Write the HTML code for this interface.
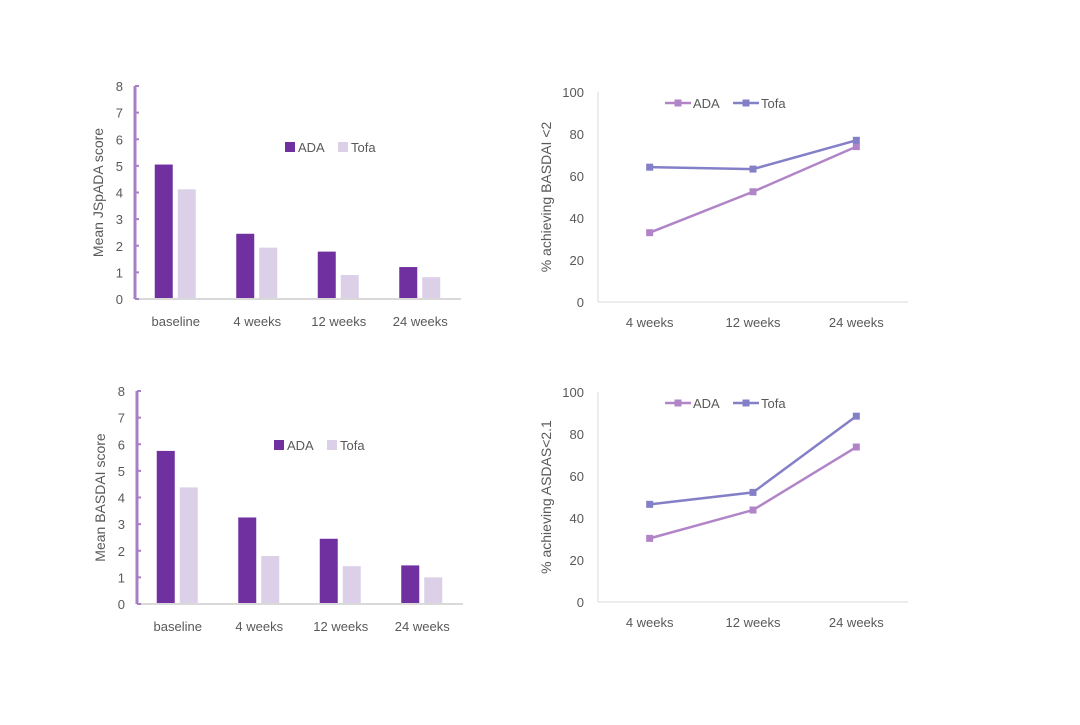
<!DOCTYPE html>
<html><head><meta charset="utf-8"><style>
body{margin:0;background:#fff;}
svg text{font-family:"Liberation Sans",sans-serif;fill:#595959;}
</style></head><body>
<svg id="c" width="1080" height="720" xmlns="http://www.w3.org/2000/svg"></svg>
<script>
const barCats=["baseline","4 weeks","12 weeks","24 weeks"];
const jspadaADA=[5.05,2.45,1.78,1.2];
const jspadaTofa=[4.12,1.93,0.9,0.82];
const basdaiADA=[5.75,3.25,2.45,1.45];
const basdaiTofa=[4.38,1.8,1.42,1.0];
const barTicks=[0,1,2,3,4,5,6,7,8];
const lineCats=["4 weeks","12 weeks","24 weeks"];
const basdai2ADA=[33,52.5,74];
const basdai2Tofa=[64.2,63.3,77];
const asdasADA=[30.3,43.8,73.8];
const asdasTofa=[46.5,52.2,88.5];
const lineTicks=[0,20,40,60,80,100];

const svg=document.getElementById('c');
const NS="http://www.w3.org/2000/svg";
function el(t,a,txt){const e=document.createElementNS(NS,t);for(const k in a)e.setAttribute(k,a[k]);if(txt!=null)e.textContent=txt;svg.appendChild(e);return e;}

function barChart(o){
  const y=v=>o.y0-(v/8)*(o.y0-o.y1);
  const step=(o.xEnd-o.x0)/barCats.length;
  let e=el('line',{x1:o.x0,y1:o.y0,x2:o.xEnd,y2:o.y0,stroke:'#d9d9d9','stroke-width':2});
  
  e=el('line',{x1:o.x0,y1:o.y0,x2:o.x0,y2:o.y1,stroke:'#a67fc4','stroke-width':3});
  
  barTicks.forEach(t=>{
    const tk=el('line',{x1:o.x0,y1:y(t),x2:o.x0+4,y2:y(t),stroke:'#a67fc4','stroke-width':2});
    
    const l=el('text',{x:o.x0-12,y:y(t)+5,'text-anchor':'end','font-size':13},t);
    
  });
  barCats.forEach((c,i)=>{
    const cx=o.x0+step*(i+0.5);
    let b=el('rect',{x:cx-21,y:y(o.a[i]),width:18,height:o.y0-1-y(o.a[i]),fill:'#7030a0'});
    
    b=el('rect',{x:cx+2,y:y(o.b[i]),width:18,height:o.y0-1-y(o.b[i]),fill:'#dccfe8'});
    
    const l=el('text',{x:cx,y:o.y0+27,'text-anchor':'middle','font-size':13},c);
    
  });
  const yt=el('text',{x:0,y:0,'text-anchor':'middle','font-size':14,transform:`translate(${o.x0-32},${(o.y0+o.y1)/2}) rotate(-90)`},o.title);
  
  let s=el('rect',{x:o.lx,y:o.ly-5,width:10,height:10,fill:'#7030a0'});
  
  let t=el('text',{x:o.lx+13,y:o.ly+5,'font-size':13},'ADA');
  
  s=el('rect',{x:o.lx+53,y:o.ly-5,width:10,height:10,fill:'#dccfe8'});
  
  t=el('text',{x:o.lx+66,y:o.ly+5,'font-size':13},'Tofa');
  
}

function lineChart(o){
  const y=v=>o.y0-(v/100)*(o.y0-o.y1);
  const step=(o.xEnd-o.x0)/lineCats.length;
  const x=i=>o.x0+step*(i+0.5);
  let e=el('line',{x1:o.x0,y1:o.y0,x2:o.xEnd,y2:o.y0,stroke:'#d9d9d9','stroke-width':1});
  
  e=el('line',{x1:o.x0,y1:o.y0,x2:o.x0,y2:o.y1,stroke:'#d9d9d9','stroke-width':1});
  
  lineTicks.forEach(t=>{
    const l=el('text',{x:o.x0-14,y:y(t)+5,'text-anchor':'end','font-size':13},t);
    
  });
  lineCats.forEach((c,i)=>{
    const l=el('text',{x:x(i),y:o.y0+25,'text-anchor':'middle','font-size':13},c);
    
  });
  [[o.a,'#b184c8','ada'],[o.b,'#8480c8','tofa']].forEach(([d,col,n])=>{
    const p=el('polyline',{points:d.map((v,i)=>x(i)+','+y(v)).join(' '),fill:'none',stroke:col,'stroke-width':2.5});
    
    d.forEach((v,i)=>{
      const m=el('rect',{x:x(i)-3.5,y:y(v)-3.5,width:7,height:7,fill:col});
      
    });
  });
  const yt=el('text',{x:0,y:0,'text-anchor':'middle','font-size':14,transform:`translate(${o.x0-47},${(o.y0+o.y1)/2}) rotate(-90)`},o.title);
  
  [[665,'#b184c8','ADA','ada'],[733,'#8480c8','Tofa','tofa']].forEach(([lx,col,lab,n])=>{
    const ln=el('line',{x1:lx,y1:o.ly,x2:lx+26,y2:o.ly,stroke:col,'stroke-width':2.5});
    
    const m=el('rect',{x:lx+9.5,y:o.ly-3.5,width:7,height:7,fill:col});
    
    const t=el('text',{x:lx+28,y:o.ly+5,'font-size':13},lab);
    
  });
}

barChart({id:'jspada',x0:135,xEnd:461,y0:299,y1:86,a:jspadaADA,b:jspadaTofa,title:'Mean JSpADA score',lx:285,ly:147});
barChart({id:'basdai',x0:137,xEnd:463,y0:604,y1:391,a:basdaiADA,b:basdaiTofa,title:'Mean BASDAI score',lx:274,ly:445});
lineChart({id:'basdai2',x0:598,xEnd:908,y0:302,y1:92,a:basdai2ADA,b:basdai2Tofa,title:'% achieving BASDAI <2',ly:103});
lineChart({id:'asdas',x0:598,xEnd:908,y0:602,y1:392,a:asdasADA,b:asdasTofa,title:'% achieving ASDAS<2.1',ly:403});
</script>
</body></html>
